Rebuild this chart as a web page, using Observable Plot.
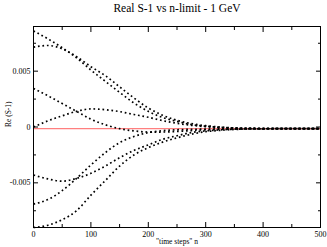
<!DOCTYPE html>
<html>
<head>
<meta charset="utf-8">
<script src="https://cdn.jsdelivr.net/npm/d3@7"></script>
<script src="https://cdn.jsdelivr.net/npm/@observablehq/plot@0.6"></script>
<style>
  html, body { margin: 0; padding: 0; background: #fff; }
</style>
</head>
<body>
<div id="chart"></div>
<script>
const steps = [0, 25, 50, 75, 100, 125, 150, 175, 200, 225, 250, 275, 300, 325, 350, 400, 450, 500];

// Re(S-1) series
const seriesA = [0.0086, 0.0079, 0.0071, 0.0062, 0.0051, 0.0041, 0.0031, 0.00215, 0.0014, 0.00085, 0.0005, 0.00022, 0.00007, -0.00003, -0.00009, -0.00014, -0.00015, -0.00015];
const seriesB = [0.00715, 0.0073, 0.0070, 0.0063, 0.0054, 0.0046, 0.0036, 0.0026, 0.0017, 0.00105, 0.0006, 0.0003, 0.00012, 0.0, -0.00008, -0.00014, -0.00015, -0.00015];
const seriesC = [0.00345, 0.0028, 0.0021, 0.0014, 0.0007, 0.0002, -0.00015, -0.00035, -0.00045, -0.00045, -0.0004, -0.00032, -0.00025, -0.0002, -0.00017, -0.00015, -0.00015, -0.00015];
const seriesD = [0.0, 0.00055, 0.001, 0.0014, 0.00162, 0.00155, 0.00138, 0.00112, 0.00087, 0.00057, 0.00033, 0.00015, 0.00003, -0.00006, -0.0001, -0.00014, -0.00015, -0.00015];
const seriesE = [-0.0043, -0.00465, -0.00485, -0.0046, -0.00415, -0.0035, -0.00275, -0.0021, -0.0016, -0.0011, -0.00078, -0.0005, -0.00035, -0.00026, -0.0002, -0.00016, -0.00015, -0.00015];
const seriesF = [-0.0069, -0.0065, -0.0057, -0.0046, -0.0034, -0.0023, -0.0014, -0.00085, -0.0005, -0.00033, -0.00025, -0.00021, -0.00019, -0.00017, -0.00016, -0.00015, -0.00015, -0.00015];
const seriesG = [-0.009, -0.0088, -0.0083, -0.0075, -0.0061, -0.0048, -0.0035, -0.0025, -0.00185, -0.00135, -0.00097, -0.00065, -0.00042, -0.0003, -0.00022, -0.00016, -0.00015, -0.00015];
const seriesList = [seriesA, seriesB, seriesC, seriesD, seriesE, seriesF, seriesG];

// Limit line
const limitValue = -0.00015;
const limitRange = [0, 500];

// Ticks
const xMajor = [0, 100, 200, 300, 400, 500];
const xMinor = [50, 150, 250, 350, 450];
const yMajor = [-0.005, 0, 0.005];
const yMinor = [-0.0075, -0.0025, 0.0025, 0.0075];
const yTickLabels = {"-0.005": "-0.005", "0": "0", "0.005": "0.005"};

const titleText = "Real S-1 vs n-limit - 1 GeV";
const xLabel = "\"time steps\" n";
const yLabel = "Re (S-1)";

const rows = [];
seriesList.forEach((s, i) => s.forEach((v, j) => rows.push({n: steps[j], v, s: i})));
const limitRows = limitRange.map(n => ({n, v: limitValue}));

const font = "Liberation Serif, Times New Roman, serif";

const chart = Plot.plot({
  width: 327,
  height: 247,
  marginTop: 26,
  marginBottom: 20,
  marginLeft: 33,
  marginRight: 7,
  style: {fontFamily: font, fontSize: "8px", color: "#000", background: "#fff"},
  x: {domain: [0, 500]},
  y: {domain: [-0.009, 0.009]},
  marks: [
    Plot.line(limitRows, {x: "n", y: "v", stroke: "#ff7f7f", strokeWidth: 1.2}),
    Plot.line(rows, {x: "n", y: "v", z: "s", stroke: "#000", strokeWidth: 1.7, strokeDasharray: "1.7,2.8", strokeLinecap: "butt", curve: "monotone-x"}),
    Plot.frame({stroke: "#000", strokeWidth: 1}),
    Plot.axisX({anchor: "bottom", ticks: xMajor, tickSize: -5, tickPadding: 9, tickFormat: d => String(d), label: null, fontSize: 8, fill: "#000", stroke: "#000"}),
    Plot.axisX({anchor: "bottom", ticks: xMinor, tickSize: -3, tickFormat: () => "", label: null, stroke: "#000"}),
    Plot.axisX({anchor: "top", ticks: xMajor, tickSize: -5, tickFormat: () => "", label: null, stroke: "#000"}),
    Plot.axisX({anchor: "top", ticks: xMinor, tickSize: -3, tickFormat: () => "", label: null, stroke: "#000"}),
    Plot.axisY({anchor: "left", ticks: yMajor, tickSize: -5, tickPadding: 8, tickFormat: d => yTickLabels[String(d)], label: null, fontSize: 8, fill: "#000", stroke: "#000"}),
    Plot.axisY({anchor: "left", ticks: yMinor, tickSize: -3, tickFormat: () => "", label: null, stroke: "#000"}),
    Plot.axisY({anchor: "right", ticks: yMajor, tickSize: -5, tickFormat: () => "", label: null, stroke: "#000"}),
    Plot.axisY({anchor: "right", ticks: yMinor, tickSize: -3, tickFormat: () => "", label: null, stroke: "#000"}),
    Plot.text([titleText], {frameAnchor: "top", text: d => d, dy: -15, fontSize: 11.5, lineAnchor: "bottom", fill: "#000"}),
    Plot.text([xLabel], {frameAnchor: "bottom", text: d => d, dy: 14, fontSize: 7.5, lineAnchor: "middle", fill: "#000"}),
    Plot.text([yLabel], {frameAnchor: "left", text: d => d, dx: -25, rotate: -90, fontSize: 7.5, lineAnchor: "middle", fill: "#000"})
  ]
});
document.getElementById("chart").appendChild(chart);
</script>
</body>
</html>
